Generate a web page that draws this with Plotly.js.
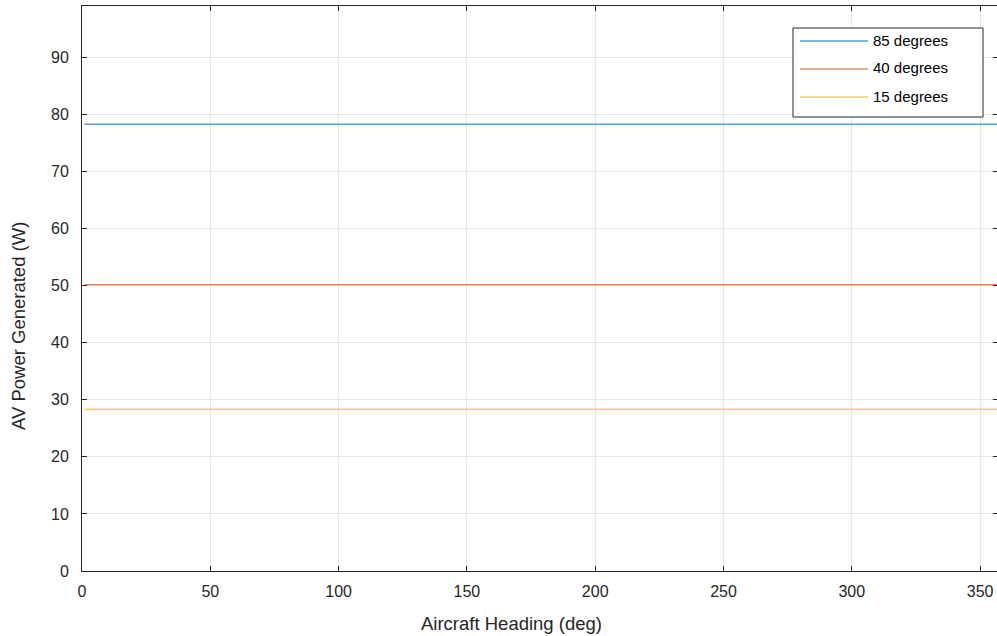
<!DOCTYPE html>
<html>
<head>
<meta charset="utf-8">
<script src="https://cdn.plot.ly/plotly-3.0.1.min.js"></script>
<style>
html,body{margin:0;padding:0;overflow:hidden;background:#fff;}
#chart{width:999px;height:636px;}
</style>
</head>
<body>
<div id="chart"></div>
<script>
// Data
const seriesNames = ["85 degrees", "40 degrees", "15 degrees"];
const heading = [1, 360];
const power85 = [78.3, 78.3];
const power40 = [50.15, 50.15];
const power15 = [28.35, 28.35];
const seriesColors = ["#0072BD", "#D95319", "#EDB120"];
const xTicks = [0, 50, 100, 150, 200, 250, 300, 350];
const yTicks = [0, 10, 20, 30, 40, 50, 60, 70, 80, 90];
const xTitle = "Aircraft Heading (deg)";
const yTitle = "AV Power Generated (W)";

const values = [power85, power40, power15];
const traces = values.map((v, i) => ({
  x: heading, y: v, type: "scatter", mode: "lines", name: seriesNames[i],
  line: {color: seriesColors[i], width: 1}, showlegend: false
}));

// plot area in pixels
const L = 82, R = 998, T = 6, B = 571;
const px = x => (x - L) / (R - L);
const py = y => (B - y) / (B - T);

const FONT = "Liberation Sans, Arial, Helvetica, sans-serif";
const shapes = [];
const annotations = [];
// legend box
shapes.push({type: "rect", xref: "paper", yref: "paper",
  x0: px(793), x1: px(983), y0: py(117), y1: py(28),
  line: {color: "#262626", width: 1}, fillcolor: "#ffffff", layer: "above"});
const legY = [41, 69, 97];
seriesNames.forEach((n, i) => {
  shapes.push({type: "line", xref: "paper", yref: "paper",
    x0: px(800), x1: px(868), y0: py(legY[i]), y1: py(legY[i]),
    line: {color: seriesColors[i], width: 1}, layer: "above"});
  annotations.push({xref: "paper", yref: "paper", x: px(871), y: py(legY[i] - 1),
    xanchor: "left", yanchor: "middle", text: n, showarrow: false,
    font: {family: FONT, size: 15, color: "#000"}});
});

const axFont = {family: FONT, size: 16, color: "#262626"};
const titleFont = {family: FONT, size: 18.5, color: "#262626"};
// axis titles placed as in the reference
annotations.push({xref: "paper", yref: "paper", x: px(511), y: py(623),
  xanchor: "center", yanchor: "middle", text: xTitle, showarrow: false, font: titleFont});
annotations.push({xref: "paper", yref: "paper", x: px(18), y: py(326),
  xanchor: "center", yanchor: "middle", textangle: -90, text: yTitle, showarrow: false, font: titleFont});

const layout = {
  width: 999, height: 636,
  margin: {l: L, r: 999 - R, t: T, b: 636 - B},
  paper_bgcolor: "#fff", plot_bgcolor: "#fff",
  showlegend: false,
  xaxis: {
    range: [0, (R - L) / 128.3 * 50], tickvals: xTicks, ticktext: xTicks.map(String),
    showgrid: true, gridcolor: "#e6e6e6", gridwidth: 1, zeroline: false,
    showline: true, linecolor: "#262626", linewidth: 1, mirror: "ticks",
    ticks: "inside", ticklen: 5, tickcolor: "#262626", tickfont: axFont,
    ticklabelstandoff: 6, automargin: false
  },
  yaxis: {
    range: [0, 99], tickvals: yTicks, ticktext: yTicks.map(String),
    showgrid: true, gridcolor: "#e6e6e6", gridwidth: 1, zeroline: false,
    showline: true, linecolor: "#262626", linewidth: 1, mirror: "ticks",
    ticks: "inside", ticklen: 5, tickcolor: "#262626", tickfont: axFont,
    ticklabelstandoff: 9, automargin: false
  },
  shapes: shapes,
  annotations: annotations
};
Plotly.newPlot("chart", traces, layout, {displayModeBar: false, staticPlot: true});
</script>
</body>
</html>
